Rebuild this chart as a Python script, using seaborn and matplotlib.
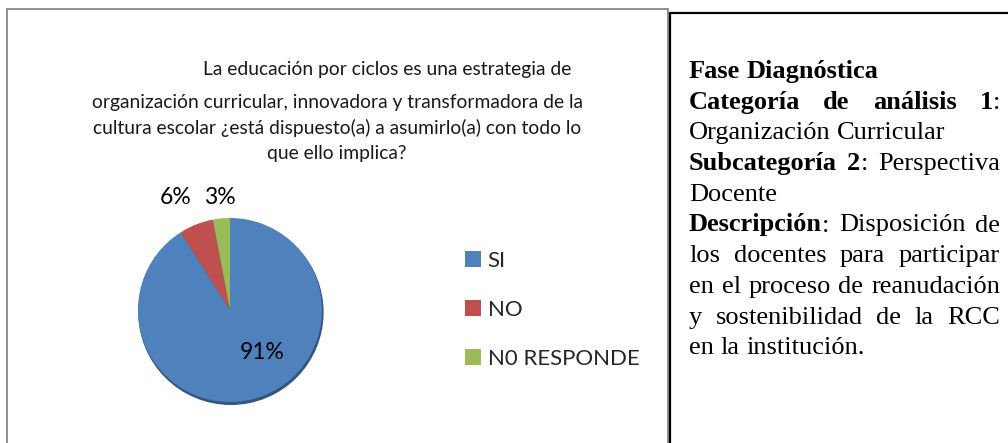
import numpy as np
import seaborn as sns
import matplotlib.pyplot as plt
from matplotlib.patches import Rectangle, Ellipse
from matplotlib.lines import Line2D

# datos del grafico
categorias = ["SI", "NO", "N0 RESPONDE"]
porcentajes = [91, 6, 3]
colores = ["#4F81BD", "#C0504D", "#9BBB59"]

titulo_1 = "La educación por ciclos es una estrategia de"
titulo_resto = ["organización curricular, innovadora y transformadora de la",
                "cultura escolar ¿está dispuesto(a) a asumirlo(a) con todo lo",
                "que ello implica?"]

# texto del cuadro derecho: (tokens, justificado); cada token = [(texto, negrita)]
lineas_texto = [
    ([[("Fase", True)], [("Diagnóstica", True)]], False),
    ([[("Categoría", True)], [("de", True)], [("análisis", True)], [("1", True), (":", False)]], True),
    ([[("Organización", False)], [("Curricular", False)]], False),
    ([[("Subcategoría", True)], [("2", True), (":", False)], [("Perspectiva", False)]], True),
    ([[("Docente", False)]], False),
    ([[("Descripción", True), (":", False)], [("Disposición", False)], [("de", False)]], True),
    ([[("los", False)], [("docentes", False)], [("para", False)], [("participar", False)]], True),
    ([[("en", False)], [("el", False)], [("proceso", False)], [("de", False)], [("reanudación", False)]], True),
    ([[("y", False)], [("sostenibilidad", False)], [("de", False)], [("la", False)], [("RCC", False)]], True),
    ([[("en", False)], [("la", False)], [("institución.", False)]], False),
]

sns.set_theme(style="white")
plt.rcParams['font.family'] = ['Lato', 'DejaVu Sans']

W, H = 1008, 443
fig = plt.figure(figsize=(W / 100, H / 100), dpi=100)
fig.patch.set_facecolor('white')


def fx(px):
    return px / W


def fy(py):
    return 1 - py / H


# marcos
fig.add_artist(Rectangle((fx(7), fy(480)), fx(668) - fx(7), fy(9) - fy(480),
                         transform=fig.transFigure, fill=False,
                         edgecolor='#868686', lw=1.3))
fig.add_artist(Line2D([fx(670), fx(670)], [fy(13), fy(460)], color='black', lw=1.6,
                      transform=fig.transFigure))
fig.add_artist(Line2D([fx(670), 1.0], [fy(13), fy(13)], color='black', lw=1.6,
                      transform=fig.transFigure))

# titulo
fig.text(fx(387), fy(75), titulo_1, ha='center', va='baseline', fontsize=13.9, color='#1a1a1a')
for i, linea in enumerate(titulo_resto):
    fig.text(fx(337), fy(108 + 25.5 * i), linea, ha='center', va='baseline',
             fontsize=13.9, color='#1a1a1a')

# torta
cx, cy, r = 230, 310, 92
ax = fig.add_axes([fx(cx - r), fy(cy + r), 2 * r / W, 2 * r / H])
ax.add_patch(Ellipse((0.01, -0.025), 2.0, 2.0, color='#34557F', zorder=0, clip_on=False))
wedges, _ = ax.pie(porcentajes, colors=sns.color_palette(colores), startangle=90,
                   counterclock=False, wedgeprops=dict(linewidth=0, clip_on=False))
ax.set_xlim(-1.0, 1.0)
ax.set_ylim(-1.0, 1.0)
ax.axis('off')

dist = [0.55, 1.32, 1.22]
desp = [(18, 6), (-10, 0), (0, 1)]
for w, p, d, o in zip(wedges, porcentajes, dist, desp):
    th = np.deg2rad((w.theta1 + w.theta2) / 2)
    ax.annotate(f"{p}%", (d * np.cos(th), d * np.sin(th)), xytext=o,
                textcoords='offset pixels', ha='center', va='center',
                fontsize=16.5, color='black', annotation_clip=False)

# leyenda
fig.legend(wedges, categorias, loc='upper left', bbox_to_anchor=(fx(465), fy(251)),
           frameon=False, fontsize=16, handlelength=0.72, handleheight=0.72,
           handletextpad=0.3, labelspacing=1.3, borderpad=0, borderaxespad=0)

# cuadro de texto derecho (justificado)
serif = 'Liberation Serif'
fs_txt = 19
renderer = fig.canvas.get_renderer()


def ancho(s, bold):
    t = fig.text(0, 0, s, fontsize=fs_txt, family=serif,
                 fontweight='bold' if bold else 'normal')
    w = t.get_window_extent(renderer=renderer).width
    t.remove()
    return w


espacio = ancho("a a", False) - ancho("aa", False)
x0, x1 = 689, 1000
y0, paso = 78, 30.7
for k, (tokens, just) in enumerate(lineas_texto):
    anchos = [sum(ancho(s, b) for s, b in tok) for tok in tokens]
    if just and len(tokens) > 1:
        gap = (x1 - x0 - sum(anchos)) / (len(tokens) - 1)
    else:
        gap = espacio
    x = x0
    yb = y0 + paso * k
    for tok in tokens:
        for s, b in tok:
            fig.text(fx(x), fy(yb), s, ha='left', va='baseline', fontsize=fs_txt,
                     family=serif, fontweight='bold' if b else 'normal', color='black')
            x += ancho(s, b)
        x += gap

fig.savefig('out.png', dpi=100)
